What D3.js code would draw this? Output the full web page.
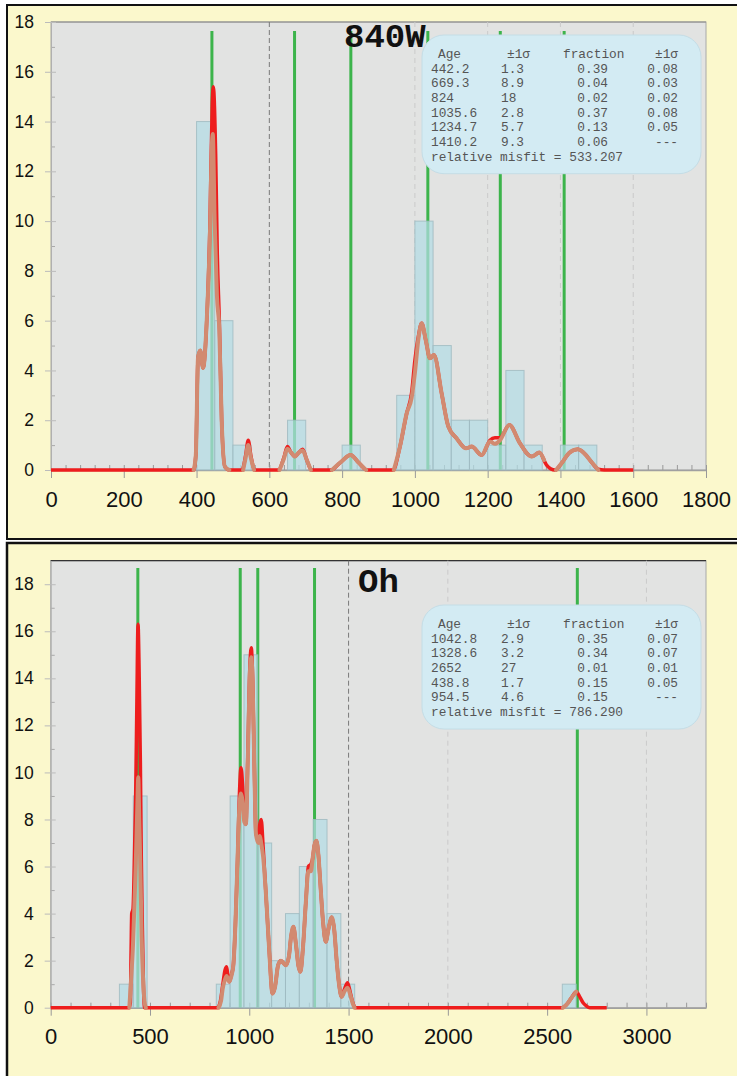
<!DOCTYPE html>
<html>
<head>
<meta charset="utf-8">
<script src="https://cdn.jsdelivr.net/npm/d3@7"></script>
<style>
  html, body { margin: 0; padding: 0; background: #fff; }
  svg { display: block; }
  .tick text { font-family: "Liberation Sans", Arial, sans-serif; fill: #111; }
  .legend text { font-family: "Liberation Mono", "Courier New", monospace; font-size: 12.8px; fill: #555; }
</style>
</head>
<body>
<div id="chart"></div>
<script>
// ---- 840W sample ----
const w840Ages = [442.2, 669.3, 824, 1035.6, 1234.7, 1410.2];
const w840AgeSigma = ['1.3', '8.9', '18', '2.8', '5.7', '9.3'];
const w840Fraction = ['0.39', '0.04', '0.02', '0.37', '0.13', '0.06'];
const w840FractionSigma = ['0.08', '0.03', '0.02', '0.08', '0.05', '---'];
const w840Misfit = '533.207';
const w840BinLow = [400, 450, 500, 650, 800, 950, 1000, 1050, 1100, 1150, 1200, 1250, 1300, 1400, 1450];
const w840Counts = [14, 6, 1, 2, 1, 3, 10, 5, 2, 2, 1, 4, 1, 1, 1];
const w840BinWidth = 50;
const w840XTicks = [0, 200, 400, 600, 800, 1000, 1200, 1400, 1600, 1800];
const w840Grid = [1000, 1200, 1400, 1600];
const w840Cutoff = 600;
// red density curve [age, count]
const w840Red = [[0,0],[392,0],[398,0.6],[404,4.5],[410,4.8],[418,4.1],[428,6.0],[437,10.0],[443,14.7],[446,15.4],
  [452.5,12.7],[457,8.7],[462.6,6.0],[469,2.0],[478,0.13],[490,0],[525,0],[535,0.6],[542,1.2],[549,0.6],[560,0],
  [625,0],[640,0.5],[649.5,0.94],[660,0.7],[670.5,0.54],[681,0.7],[691.6,0.83],[703,0.4],[716,0],[770,0],[795,0.3],
  [823.5,0.6],[845,0.3],[868,0],[940,0],[959,0.94],[977.5,2.28],[991,3.1],[1000,4.4],[1010,5.4],[1018.7,5.9],
  [1030,5.2],[1041.5,4.49],[1052.5,4.62],[1073.5,3.08],[1092,1.74],[1114.8,1.27],[1140.5,0.87],[1156,0.94],
  [1183.5,0.6],[1206.4,1.2],[1220,1.3],[1234,1.3],[1259.5,1.81],[1288.8,1.07],[1321,0.54],[1342,0.7],[1362,0.2],
  [1385,0],[1403,0.27],[1425,0.7],[1447.5,0.83],[1470,0.6],[1481,0.4],[1504,0.03],[1520,0],[1600,0]];
// salmon model curve, null = gap
const w840Salmon = [[392,0],[398,0.6],[404,4.5],[410,4.8],[418,4.1],[428,6.0],[437,9.6],[442,13.0],[444.5,13.5],
  [449.8,10],[456,7.0],[462.6,5.6],[469,2.0],[478,0.13],[490,0],null,
  [528,0],[535,0.5],[542,1.0],[549,0.5],[558,0],null,
  [628,0],[640,0.45],[649.5,0.85],[660,0.7],[670.5,0.54],[681,0.7],[691.6,0.78],[703,0.4],[714,0],null,
  [772,0],[795,0.3],[823.5,0.6],[845,0.3],[866,0],null,
  [942,0],[959,0.94],[977.5,2.28],[991,2.9],[1000,3.9],[1010,5.3],[1018.7,5.9],[1030,5.2],[1041.5,4.49],
  [1052.5,4.62],[1073.5,3.08],[1092,1.74],[1114.8,1.27],[1140.5,0.87],[1156,0.94],[1183.5,0.6],[1206.4,1.15],
  [1220,1.05],[1234,1.2],[1259.5,1.81],[1288.8,1.07],[1321,0.54],[1342,0.7],[1355,0.4],null,
  [1388,0],[1403,0.27],[1425,0.7],[1447.5,0.83],[1470,0.6],[1481,0.4],[1504,0]];

// ---- Oh sample ----
const ohAges = [1042.8, 1328.6, 2652, 438.8, 954.5];
const ohAgeSigma = ['2.9', '3.2', '27', '1.7', '4.6'];
const ohFraction = ['0.35', '0.34', '0.01', '0.15', '0.15'];
const ohFractionSigma = ['0.07', '0.07', '0.01', '0.05', '---'];
const ohMisfit = '786.290';
const ohBinLow = [346, 415.7, 833.9, 903.6, 973.3, 1043, 1112.7, 1182.4, 1252.1, 1321.8, 1391.5, 1461.2, 2576.4];
const ohCounts = [1, 9, 1, 9, 15, 7, 2, 4, 6, 8, 4, 1, 1];
const ohBinWidth = 69.7;
const ohXTicks = [0, 500, 1000, 1500, 2000, 2500, 3000];
const ohGrid = [2000, 3000];
const ohCutoff = 1500;
const ohRed = [[0,0],[394,0],[401,0.2],[405,2.5],[408,4.0],[414.5,4.2],[422,6.5],[428,9.1],[434,13],[439.7,16.3],
  [445,14.5],[451.5,10.5],[456,6.5],[461.6,3.4],[467,1.0],[473,0],[840,0],[855,0.3],[866,0.94],[878,1.6],[886,1.74],
  [893,1.3],[899.6,1.1],[910,1.4],[919.7,1.8],[930,3.5],[941,6.3],[950,9],[958.3,10.2],[966,9.5],[975,8.0],[983,7.8],
  [992,10.5],[1003,14.5],[1010,15.3],[1017,14],[1026,10],[1033.5,7.4],[1045,7.2],[1053,7.8],[1060,8.0],[1070,6.8],
  [1083.7,4.86],[1100,2.5],[1117,0.6],[1130,0.9],[1145,1.8],[1159,2.0],[1172,1.9],[1184,1.8],[1200,2.2],[1210,3.0],
  [1222,3.44],[1235,2.7],[1247,1.8],[1257.5,1.53],[1270,2.5],[1285,4.5],[1297.6,6.0],[1310,6.1],[1318,6.3],[1328,6.9],
  [1338,7.1],[1348,6.5],[1360,5.0],[1372,3.6],[1385,2.8],[1400,3.4],[1415,3.84],[1428,3.3],[1440,2.0],[1452,1.0],
  [1465,0.47],[1480,0.8],[1495,1.06],[1510,0.6],[1522,0.2],[1535,0],[2575,0],[2600,0.15],[2625,0.45],[2647,0.68],
  [2665,0.45],[2682,0.2],[2697,0.08],[2715,0],[2800,0]];
const ohSalmon = [[396,0],[405,1.2],[414.5,2.7],[422,4.5],[428,6],[436,8.5],[441,9.8],[446,8.0],[451.5,6],[458,3.0],
  [464.8,1.3],[472,0.3],[479,0],null,
  [845,0],[858,0.3],[866,0.8],[878,1.2],[886,1.35],[893,1.2],[899.6,1.1],[910,1.35],[919.7,1.8],[930,3.5],[941,6.3],
  [950,8.5],[958.3,9.1],[966,8.8],[975,7.9],[983,7.8],[992,10.3],[1003,14.2],[1010,14.9],[1017,13.8],[1026,10],
  [1033.5,7.4],[1045,7.0],[1053,7.3],[1060,7.0],[1070,6.4],[1083.7,4.86],[1100,2.5],[1117,0.6],[1130,0.9],[1145,1.8],
  [1159,2.0],[1172,1.9],[1184,1.8],[1200,2.2],[1210,3.0],[1222,3.44],[1235,2.7],[1247,1.8],[1257.5,1.53],[1270,2.5],
  [1285,4.5],[1297.6,5.8],[1310,5.8],[1320,6.4],[1328,6.9],[1338,7.1],[1348,6.5],[1360,5.0],[1372,3.6],[1385,2.8],
  [1400,3.4],[1415,3.84],[1428,3.3],[1440,2.0],[1452,1.0],[1465,0.47],[1480,0.7],[1495,0.85],[1510,0.5],[1522,0.15],
  [1530,0],null,
  [2580,0],[2600,0.15],[2625,0.45],[2647,0.68]];

const yTicks = [0, 2, 4, 6, 8, 10, 12, 14, 16, 18];

const width = 737, height = 1076;
const svg = d3.select('#chart').append('svg')
  .attr('width', width)
  .attr('height', height);

// panel frames
svg.append('rect').attr('x', 7).attr('y', 5).attr('width', 740).attr('height', 534)
  .attr('fill', '#fbf8cc').attr('stroke', '#111').attr('stroke-width', 2);
svg.append('rect').attr('x', 7).attr('y', 543).attr('width', 740).attr('height', 540)
  .attr('fill', '#fbf8cc').attr('stroke', '#111').attr('stroke-width', 2.5);

function drawPanel(cfg) {
  const g = svg.append('g');
  const x = d3.scaleLinear().domain([0, cfg.xMax]).range([cfg.left, cfg.right]);
  const y = d3.scaleLinear().domain([0, cfg.yMax]).range([cfg.bottom, cfg.top]);

  // plot background
  g.append('rect')
    .attr('x', cfg.left).attr('y', cfg.top)
    .attr('width', cfg.right - cfg.left).attr('height', cfg.bottom - cfg.top)
    .attr('fill', '#e2e3e2').attr('stroke', '#a8a8a8');
  g.append('line')
    .attr('x1', cfg.left).attr('x2', cfg.right).attr('y1', cfg.top).attr('y2', cfg.top)
    .attr('stroke', cfg.topEdge).attr('stroke-width', 1.2);

  // faint grid lines and the dark cutoff line
  g.selectAll('.grid').data(cfg.grid).enter().append('line')
    .attr('x1', d => x(d)).attr('x2', d => x(d))
    .attr('y1', cfg.top).attr('y2', cfg.bottom)
    .attr('stroke', '#cacaca').attr('stroke-dasharray', '5,4');
  g.append('line')
    .attr('x1', x(cfg.cutoff)).attr('x2', x(cfg.cutoff))
    .attr('y1', cfg.top).attr('y2', cfg.bottom)
    .attr('stroke', '#7a7a7a').attr('stroke-dasharray', '5,3');

  // axes
  const xMinor = d3.range(0, cfg.xMax + 1, cfg.xMinorStep);
  g.append('g')
    .attr('transform', `translate(0,${cfg.bottom})`)
    .call(d3.axisBottom(x).tickValues(xMinor).tickSize(-5).tickFormat(''))
    .call(a => a.selectAll('line').attr('stroke', '#999'))
    .call(a => a.select('.domain').remove());
  g.append('g')
    .attr('transform', `translate(0,${cfg.bottom})`)
    .call(d3.axisBottom(x).tickValues(cfg.xTicks).tickFormat(d3.format('d'))
      .tickSizeInner(8).tickSizeOuter(0).tickPadding(13))
    .call(a => a.selectAll('line').attr('stroke', '#999'))
    .call(a => a.select('.domain').attr('stroke', '#a0a0a0').attr('stroke-width', 1.5))
    .call(a => a.selectAll('text').style('font-size', '22px'));

  const yMinor = d3.range(1, 19, 2);
  g.append('g')
    .attr('transform', `translate(${cfg.left},0)`)
    .call(d3.axisLeft(y).tickValues(yMinor).tickSize(-4).tickFormat(''))
    .call(a => a.selectAll('line').attr('stroke', '#aaa'))
    .call(a => a.select('.domain').remove());
  g.append('g')
    .attr('transform', `translate(${cfg.left},0)`)
    .call(d3.axisLeft(y).tickValues(yTicks).tickFormat(d3.format('d'))
      .tickSizeInner(6).tickSizeOuter(0).tickPadding(11))
    .call(a => a.selectAll('line').attr('stroke', '#bbb').attr('x2', 5).attr('x1', -6))
    .call(a => a.select('.domain').attr('stroke', '#b0b0b0'))
    .call(a => a.selectAll('text').style('font-size', '17.5px'));

  // green component ages
  g.selectAll('.age').data(cfg.ages).enter().append('line')
    .attr('x1', d => x(d)).attr('x2', d => x(d))
    .attr('y1', cfg.greenTop).attr('y2', cfg.bottom)
    .attr('stroke', '#3cb44b').attr('stroke-width', 3);

  // histogram
  g.selectAll('.bar').data(cfg.binLow).enter().append('rect')
    .attr('x', d => x(d))
    .attr('y', (d, i) => y(cfg.counts[i]))
    .attr('width', d => x(d + cfg.binWidth) - x(d))
    .attr('height', (d, i) => y(0) - y(cfg.counts[i]))
    .attr('fill', '#b3dde5').attr('fill-opacity', 0.72)
    .attr('stroke', '#9db9bf').attr('stroke-opacity', 0.8);

  const line = d3.line()
    .defined(d => d !== null)
    .x(d => x(d[0]))
    .y(d => y(d[1]))
    .curve(d3.curveMonotoneX);

  g.append('path').datum(cfg.red)
    .attr('d', line).attr('fill', 'none')
    .attr('stroke', '#ee1d1d').attr('stroke-width', 3.5)
    .attr('stroke-linejoin', 'round');
  g.append('path').datum(cfg.salmon)
    .attr('d', line).attr('fill', 'none')
    .attr('stroke', '#d28a70').attr('stroke-width', 4)
    .attr('stroke-linejoin', 'round').attr('stroke-linecap', 'round');

  // title
  g.append('text')
    .attr('x', cfg.titleX).attr('y', cfg.titleY)
    .style('font-family', '"Liberation Mono", "Courier New", monospace')
    .style('font-weight', 'bold').style('font-size', '34px')
    .attr('fill', '#111')
    .text(cfg.title);

  // legend box
  const lg = g.append('g').attr('class', 'legend');
  const rows = cfg.ages.length;
  const step = 14.67;
  const boxH = (rows + 1) * step + 36;
  lg.append('rect')
    .attr('x', 422).attr('y', cfg.legendTop)
    .attr('width', 279).attr('height', boxH)
    .attr('rx', 22)
    .attr('fill', '#d3ebf3').attr('stroke', '#c4dde6');
  const base = cfg.legendTop + 23;
  lg.append('text').attr('x', 438).attr('y', base).attr('fill', '#444').text('Age');
  lg.append('text').attr('x', 507).attr('y', base).attr('fill', '#444').text('±1σ');
  lg.append('text').attr('x', 563).attr('y', base).attr('fill', '#444').text('fraction');
  lg.append('text').attr('x', 678).attr('y', base).attr('text-anchor', 'end').attr('fill', '#444').text('±1σ');
  cfg.ages.forEach((a, i) => {
    const yy = base + (i + 1) * step;
    lg.append('text').attr('x', 431).attr('y', yy).text(String(a));
    lg.append('text').attr('x', 501).attr('y', yy).text(cfg.ageSigma[i]);
    lg.append('text').attr('x', 608).attr('y', yy).attr('text-anchor', 'end').text(cfg.fraction[i]);
    lg.append('text').attr('x', 678).attr('y', yy).attr('text-anchor', 'end').text(cfg.fractionSigma[i]);
  });
  lg.append('text').attr('x', 431).attr('y', base + (rows + 1) * step)
    .text('relative misfit = ' + cfg.misfit);
}

drawPanel({
  left: 51, right: 706, top: 22, bottom: 470, xMax: 1800, yMax: 18, xMinorStep: 40,
  xTicks: w840XTicks, grid: w840Grid, cutoff: w840Cutoff, topEdge: '#8a8a8a',
  ages: w840Ages, ageSigma: w840AgeSigma, fraction: w840Fraction, fractionSigma: w840FractionSigma,
  misfit: w840Misfit, binLow: w840BinLow, counts: w840Counts, binWidth: w840BinWidth,
  red: w840Red, salmon: w840Salmon, greenTop: 31,
  title: '840W', titleX: 344, titleY: 47, legendTop: 35
});

drawPanel({
  left: 50.7, right: 706, top: 560.7, bottom: 1007.7, xMax: 3300, yMax: 19, xMinorStep: 100,
  xTicks: ohXTicks, grid: ohGrid, cutoff: ohCutoff, topEdge: '#333',
  ages: ohAges, ageSigma: ohAgeSigma, fraction: ohFraction, fractionSigma: ohFractionSigma,
  misfit: ohMisfit, binLow: ohBinLow, counts: ohCounts, binWidth: ohBinWidth,
  red: ohRed, salmon: ohSalmon, greenTop: 568,
  title: 'Oh', titleX: 358, titleY: 592, legendTop: 605
});
</script>
</body>
</html>
